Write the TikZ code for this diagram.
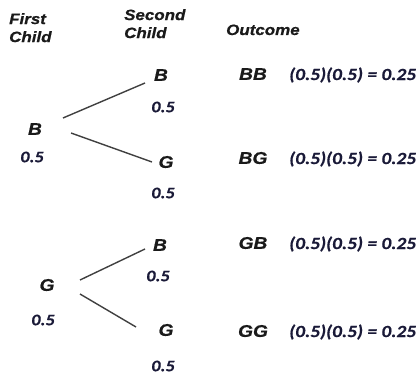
\documentclass[tikz,border=0pt]{standalone}
\usepackage{fontspec}
\newfontfamily\headfont[FakeStretch=1.13,FakeBold=0.6]{Liberation Sans}
\newfontfamily\numfont[FakeStretch=1.14,FakeBold=0.5]{Carlito}
\definecolor{inkblack}{HTML}{1A1A1A}
\definecolor{numnavy}{HTML}{1A1A38}
\definecolor{branch}{HTML}{404040}
\tikzset{
  head/.style={inner sep=0pt, anchor=north west, align=left, text=inkblack,
    font=\headfont\bfseries\itshape\fontsize{15}{19}\selectfont},
  letter/.style={inner sep=0pt, text=inkblack,
    font=\headfont\bfseries\itshape\fontsize{17}{19}\selectfont},
  prob/.style={inner sep=0pt, text=numnavy,
    font=\numfont\bfseries\itshape\fontsize{16}{18}\selectfont},
  formula/.style={inner sep=0pt, anchor=west, text=numnavy,
    font=\numfont\bfseries\itshape\fontsize{17}{19}\selectfont},
  branchline/.style={draw=branch, line width=1.4pt},
}
\begin{document}
\begin{tikzpicture}[x=1pt,y=-1pt]
  \fill[white] (0,0) rectangle (419,374);
  \useasboundingbox (0,0) rectangle (419,374);

  % column headings
  \node[head] (h1) at (9,13) {First\\[-1pt]Child};
  \node[head] (h2) at (124,9) {Second\\[-1pt]Child};
  \node[head, anchor=base west] (h3) at (226,35) {Outcome};

  % first child
  \node[letter] (B1) at (35,129) {B};
  \node[prob]   (pB1) at (32,157) {0.5};
  \node[letter] (G1) at (47,285) {G};
  \node[prob]   (pG1) at (43,320) {0.5};

  % second child after B
  \node[letter] (BB) at (161,75) {B};
  \node[prob]   (pBB) at (163,107) {0.5};
  \node[letter] (BG) at (166,162) {G};
  \node[prob]   (pBG) at (163,193) {0.5};

  % second child after G
  \node[letter] (GB) at (160,245) {B};
  \node[prob]   (pGB) at (158,276) {0.5};
  \node[letter] (GG) at (166,330) {G};
  \node[prob]   (pGG) at (163,366) {0.5};

  % branch endpoints
  \coordinate (b1a) at (63,118);  \coordinate (b1b) at (145,83);
  \coordinate (b2a) at (71,133);  \coordinate (b2b) at (152,162);
  \coordinate (g1a) at (80,280);  \coordinate (g1b) at (145,249);
  \coordinate (g2a) at (80,294);  \coordinate (g2b) at (136,327);
  \draw[branchline] (b1a) -- (b1b);
  \draw[branchline] (b2a) -- (b2b);
  \draw[branchline] (g1a) -- (g1b);
  \draw[branchline] (g2a) -- (g2b);

  % outcomes
  \node[letter] (oBB) at (253,74) {BB};
  \node[letter] (oBG) at (253,158) {BG};
  \node[letter] (oGB) at (253,243) {GB};
  \node[letter] (oGG) at (253,331) {GG};
  \node[formula] (fBB) at (289,75) {(0.5)(0.5) = 0.25};
  \node[formula] (fBG) at (289,159) {(0.5)(0.5) = 0.25};
  \node[formula] (fGB) at (289,244) {(0.5)(0.5) = 0.25};
  \node[formula] (fGG) at (289,332) {(0.5)(0.5) = 0.25};
\end{tikzpicture}
\end{document}
